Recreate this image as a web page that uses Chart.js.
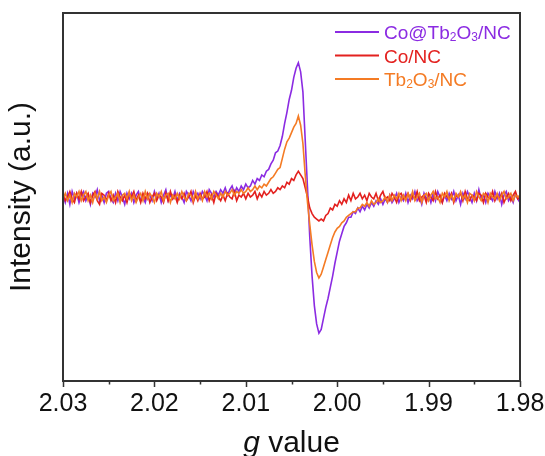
<!DOCTYPE html>
<html lang="en">
<head>
  <meta charset="UTF-8" />
  <title>EPR spectra</title>
  <script src="https://cdn.jsdelivr.net/npm/chart.js"></script>
  <style>
    * {
      box-sizing: border-box;
      margin: 0;
      padding: 0;
    }
    body {
      background: #fff;
      width: 545px;
      height: 456px;
      overflow: hidden;
    }
    #chart-container {
      position: relative;
      width: 545px;
      height: 456px;
    }
  </style>
</head>
<body>
  <div id="chart-container">
    <canvas id="eprChart"></canvas>
  </div>

  <script>
    // field sweep, expressed as g value (2.03 -> 1.98, one sample every 0.00025)
    const G_START = 2.03;
    const G_STEP = 0.00025;
    const G_TICKS = [2.03, 2.02, 2.01, 2.00, 1.99, 1.98];
    const G_MINOR_TICKS = [2.025, 2.015, 2.005, 1.995, 1.985];

    const SERIES_LABELS = ['Co@Tb2O3/NC', 'Co/NC', 'Tb2O3/NC'];
    const SERIES_COLORS = ['#8B2BE2', '#E3211F', '#F47B24'];

    // normalised first-derivative intensity
    const CO_TBO_NC = [
      0.01, -0.03, 0.02, -0.04, 0.03, -0.01, 0.02, -0.03, 0.01, 0.03,
      -0.02, 0.01, -0.04, 0.02, 0.00, 0.04, -0.02, 0.01, -0.03, 0.02,
      0.03, -0.01, -0.03, 0.02, -0.02, 0.03, 0.00, -0.04, 0.02, -0.01,
      0.02, -0.03, 0.01, 0.03, -0.02, 0.00, -0.03, 0.02, 0.01, -0.02,
      0.03, -0.01, 0.02, -0.03, 0.01, 0.04, -0.02, 0.01, -0.01, 0.03,
      -0.02, 0.02, 0.00, -0.03, 0.03, 0.01, -0.02, 0.03, 0.00, 0.02,
      -0.01, 0.03, 0.01, -0.02, 0.04, 0.02, 0.00, 0.03, 0.01, 0.04,
      0.02, 0.05, 0.01, 0.04, 0.06, 0.02, 0.05, 0.03, 0.06, 0.04,
      0.07, 0.05, 0.06, 0.09, 0.07, 0.10, 0.09, 0.12, 0.11, 0.14,
      0.15, 0.18, 0.20, 0.24, 0.25, 0.28, 0.33, 0.40, 0.46, 0.53,
      0.58, 0.65, 0.70, 0.73, 0.68, 0.57, 0.31, 0.05, -0.22, -0.43,
      -0.59, -0.69, -0.74, -0.72, -0.66, -0.60, -0.55, -0.49, -0.43, -0.36,
      -0.30, -0.24, -0.20, -0.16, -0.14, -0.11, -0.11, -0.08, -0.09, -0.06,
      -0.08, -0.05, -0.07, -0.04, -0.06, -0.03, -0.05, -0.02, -0.04, -0.01,
      -0.04, -0.01, -0.03, 0.01, -0.03, -0.01, 0.02, -0.03, 0.00, -0.02,
      0.02, -0.03, 0.01, -0.01, 0.03, -0.02, 0.00, -0.04, 0.02, -0.01,
      0.01, -0.03, 0.02, -0.02, 0.03, 0.00, -0.03, 0.01, -0.02, 0.02,
      -0.01, 0.03, -0.02, 0.01, -0.04, 0.02, -0.01, 0.03, 0.00, -0.03,
      0.02, -0.02, 0.04, -0.01, 0.01, -0.03, 0.02, 0.00, -0.02, 0.03,
      -0.01, 0.02, -0.04, 0.01, 0.03, -0.02, 0.00, -0.03, 0.02, -0.01,
      -0.03
    ];

    const CO_NC = [
      0.02, -0.02, 0.00, 0.03, -0.01, -0.03, 0.02, -0.01, 0.03, -0.02,
      0.00, 0.02, -0.03, 0.01, 0.03, -0.02, -0.04, 0.02, 0.01, -0.02,
      0.02, -0.02, 0.01, -0.03, 0.03, 0.00, -0.02, 0.01, -0.03, 0.02,
      0.00, 0.03, -0.02, 0.01, -0.03, 0.02, -0.01, 0.02, -0.03, 0.00,
      0.02, -0.02, 0.01, 0.00, -0.03, 0.02, -0.02, 0.03, -0.01, 0.01,
      -0.03, 0.01, -0.01, 0.02, -0.02, 0.00, 0.03, -0.03, 0.01, -0.02,
      0.02, -0.01, 0.00, 0.03, -0.02, 0.01, -0.03, 0.02, 0.00, -0.02,
      0.01, -0.02, 0.02, 0.00, -0.01, 0.03, -0.02, 0.01, 0.00, 0.02,
      -0.01, 0.02, 0.00, 0.01, 0.03, -0.01, 0.02, 0.00, 0.03, 0.01,
      0.02, 0.04, 0.02, 0.03, 0.05, 0.04, 0.06, 0.05, 0.08, 0.07,
      0.10, 0.09, 0.12, 0.14, 0.12, 0.10, 0.05, 0.00, -0.06, -0.09,
      -0.11, -0.12, -0.13, -0.12, -0.13, -0.10, -0.09, -0.06, -0.07, -0.04,
      -0.05, -0.02, -0.04, -0.01, -0.03, 0.01, -0.02, 0.02, -0.01, 0.00,
      0.02, -0.01, 0.01, -0.02, 0.02, 0.00, -0.01, 0.02, -0.02, 0.01,
      0.03, -0.01, 0.00, -0.02, 0.02, 0.00, -0.03, 0.01, 0.02, -0.01,
      0.00, 0.02, -0.02, 0.01, -0.01, 0.03, -0.02, 0.00, 0.01, -0.03,
      0.02, 0.00, -0.02, 0.03, -0.01, 0.01, -0.03, 0.02, 0.00, -0.01,
      0.02, -0.03, 0.01, 0.00, 0.02, -0.02, 0.03, -0.01, -0.02, 0.01,
      0.00, -0.02, 0.02, 0.01, -0.03, 0.02, 0.00, -0.01, 0.03, -0.02,
      0.01, -0.01, 0.02, -0.03, 0.00, 0.02, -0.02, 0.01, 0.03, -0.01,
      0.00
    ];

    const TBO_NC = [
      -0.01, 0.02, -0.02, 0.01, -0.03, 0.02, 0.00, 0.03, -0.02, 0.01,
      0.03, -0.02, 0.01, -0.03, 0.02, -0.01, 0.03, -0.02, 0.00, -0.03,
      0.01, 0.03, -0.02, 0.00, 0.02, -0.03, 0.01, 0.02, -0.01, 0.03,
      -0.02, 0.01, -0.03, 0.00, 0.02, -0.02, 0.03, -0.01, 0.02, 0.00,
      -0.03, 0.02, 0.00, 0.03, -0.02, 0.01, 0.02, -0.03, 0.01, -0.01,
      0.02, -0.01, 0.03, 0.00, -0.02, 0.02, 0.01, -0.02, 0.03, -0.01,
      0.01, -0.02, 0.03, 0.00, 0.02, -0.01, 0.03, 0.01, -0.01, 0.02,
      0.00, 0.03, 0.01, 0.02, 0.04, 0.01, 0.03, 0.02, 0.04, 0.02,
      0.03, 0.05, 0.03, 0.04, 0.06, 0.04, 0.06, 0.05, 0.07, 0.06,
      0.08, 0.10, 0.11, 0.13, 0.15, 0.16, 0.21, 0.26, 0.30, 0.32,
      0.35, 0.38, 0.40, 0.44, 0.39, 0.29, 0.12, -0.03, -0.15, -0.26,
      -0.35, -0.41, -0.44, -0.42, -0.38, -0.34, -0.30, -0.26, -0.22, -0.19,
      -0.17, -0.16, -0.14, -0.13, -0.11, -0.10, -0.09, -0.08, -0.08, -0.06,
      -0.06, -0.04, -0.05, -0.03, -0.05, -0.02, -0.04, -0.03, -0.01, -0.03,
      -0.02, 0.00, -0.03, 0.01, -0.02, 0.01, -0.01, 0.02, -0.02, 0.01,
      -0.02, 0.02, -0.01, 0.03, -0.02, 0.00, 0.02, -0.03, 0.01, 0.02,
      -0.02, 0.01, 0.03, -0.01, 0.00, -0.03, 0.02, 0.00, 0.03, -0.02,
      0.01, -0.02, 0.02, 0.00, 0.03, -0.01, 0.01, -0.03, 0.02, 0.01,
      -0.02, 0.03, 0.00, -0.02, 0.02, 0.01, -0.03, 0.02, 0.00, -0.01,
      0.02, -0.02, 0.01, 0.03, -0.01, 0.00, 0.02, -0.02, 0.01, 0.00,
      0.01
    ];

    const FONT_FAMILY = "'Liberation Sans', Arial, Helvetica, sans-serif";
    const AXIS_COLOR = '#333';

    function toPoints(values) {
      return values.map((v, i) => ({ x: G_START - i * G_STEP, y: v }));
    }

    // frame, tick marks, x title and the in-plot legend
    const decorations = {
      id: 'decorations',
      afterDraw(chart) {
        const { ctx, chartArea: area } = chart;
        const xScale = chart.scales.x;
        ctx.save();

        ctx.strokeStyle = AXIS_COLOR;
        ctx.lineWidth = 2;
        ctx.strokeRect(area.left, area.top, area.right - area.left, area.bottom - area.top);

        ctx.lineWidth = 1.5;
        ctx.beginPath();
        G_TICKS.forEach(g => {
          const x = Math.round(xScale.getPixelForValue(g)) + 0.5;
          ctx.moveTo(x, area.bottom);
          ctx.lineTo(x, area.bottom + 6);
        });
        G_MINOR_TICKS.forEach(g => {
          const x = Math.round(xScale.getPixelForValue(g)) + 0.5;
          ctx.moveTo(x, area.bottom);
          ctx.lineTo(x, area.bottom + 3.5);
        });
        ctx.stroke();

        // "g value" with italic g
        ctx.fillStyle = '#111';
        ctx.textBaseline = 'alphabetic';
        const italic = `italic 30px ${FONT_FAMILY}`;
        const upright = `30px ${FONT_FAMILY}`;
        ctx.font = italic;
        const wG = ctx.measureText('g').width;
        ctx.font = upright;
        const wRest = ctx.measureText(' value').width;
        const tx = (area.left + area.right) / 2 - (wG + wRest) / 2;
        const ty = 452;
        ctx.font = italic;
        ctx.fillText('g', tx, ty);
        ctx.font = upright;
        ctx.fillText(' value', tx + wG, ty);

        // legend, digits set as subscripts
        SERIES_LABELS.forEach((label, i) => {
          const y = area.top + 19 + i * 23.5;
          ctx.strokeStyle = SERIES_COLORS[i];
          ctx.lineWidth = 2;
          ctx.beginPath();
          ctx.moveTo(area.right - 185, y);
          ctx.lineTo(area.right - 141, y);
          ctx.stroke();

          ctx.fillStyle = SERIES_COLORS[i];
          let x = area.right - 136;
          for (const ch of label) {
            const sub = /[0-9]/.test(ch);
            ctx.font = sub ? `12px ${FONT_FAMILY}` : `19px ${FONT_FAMILY}`;
            ctx.fillText(ch, x, y + (sub ? 9 : 7));
            x += ctx.measureText(ch).width;
          }
        });

        ctx.restore();
      }
    };

    const ctx = document.getElementById('eprChart').getContext('2d');
    const allSeries = [CO_TBO_NC, CO_NC, TBO_NC];

    new Chart(ctx, {
      type: 'line',
      data: {
        datasets: allSeries.map((values, i) => ({
          label: SERIES_LABELS[i],
          data: toPoints(values),
          borderColor: SERIES_COLORS[i],
          borderWidth: 1.6,
          pointRadius: 0,
          tension: 0,
          fill: false,
          // orange sits on top, purple underneath
          order: [3, 2, 1][i]
        }))
      },
      options: {
        responsive: true,
        maintainAspectRatio: false,
        animation: false,
        devicePixelRatio: 1,
        layout: {
          padding: { top: 13, right: 25, left: 0, bottom: 0 }
        },
        plugins: {
          legend: { display: false },
          tooltip: { enabled: false }
        },
        scales: {
          x: {
            type: 'linear',
            reverse: true,
            min: 1.98,
            max: 2.03,
            afterBuildTicks: scale => {
              scale.ticks = G_TICKS.map(v => ({ value: v }));
            },
            afterFit: scale => {
              scale.height = 75;
              // end labels may overhang into the page margin
              scale.paddingLeft = 0;
              scale.paddingRight = 0;
            },
            grid: { display: false, drawTicks: false },
            border: { display: false },
            ticks: {
              maxRotation: 0,
              autoSkip: false,
              padding: 8,
              color: '#111',
              font: { family: FONT_FAMILY, size: 25 },
              callback: v => v.toFixed(2)
            }
          },
          y: {
            min: -1,
            max: 1,
            afterFit: scale => {
              scale.width = 63;
              scale.paddingTop = 0;
              scale.paddingBottom = 0;
            },
            grid: { display: false, drawTicks: false },
            border: { display: false },
            ticks: { display: false },
            title: {
              display: true,
              text: 'Intensity (a.u.)',
              color: '#111',
              padding: { top: 4, bottom: 0 },
              font: { family: FONT_FAMILY, size: 30 }
            }
          }
        }
      },
      plugins: [decorations]
    });
  </script>
</body>
</html>
